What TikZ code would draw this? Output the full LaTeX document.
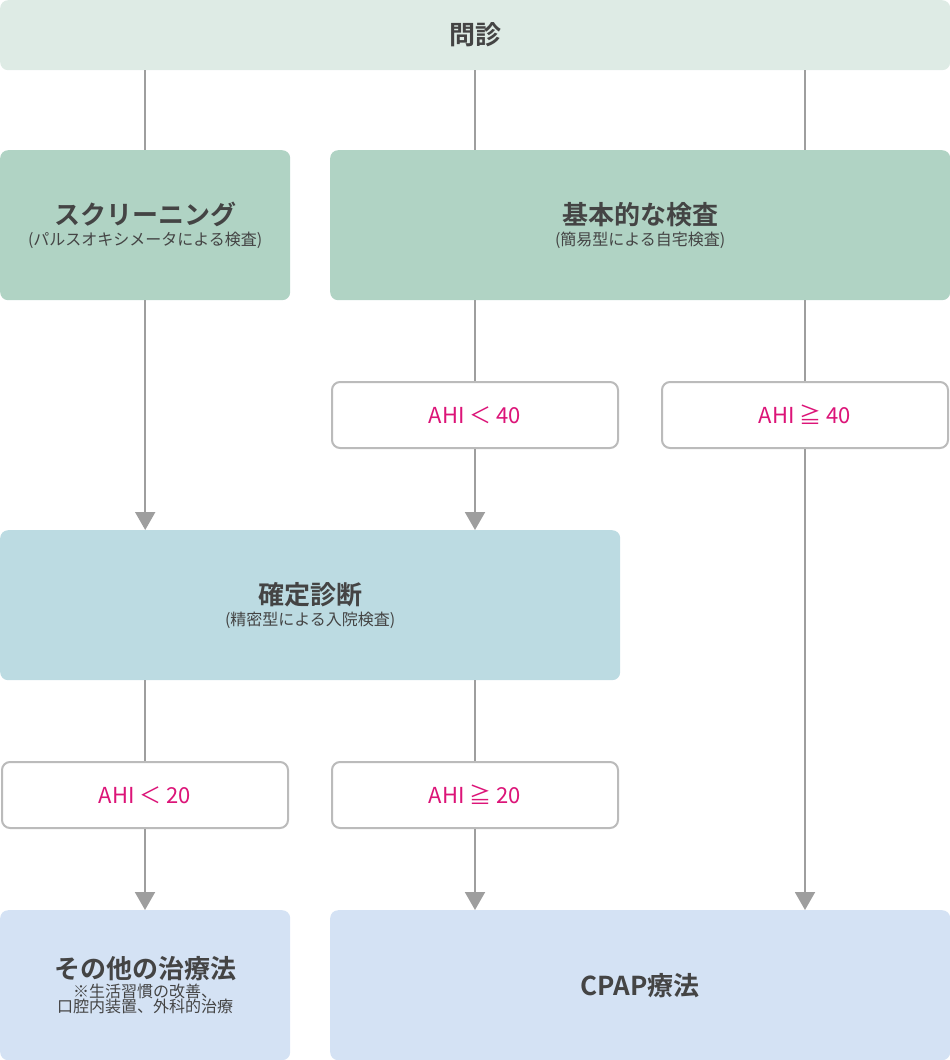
\documentclass[tikz,border=0pt]{standalone}
\usepackage{fontspec}
\setmainfont{Noto Sans CJK JP}[BoldFont={Noto Sans CJK JP Bold}]
\usetikzlibrary{arrows.meta,positioning}
\definecolor{topc}{HTML}{DEEBE5}
\definecolor{greenc}{HTML}{B0D3C4}
\definecolor{cyanc}{HTML}{BCDBE2}
\definecolor{bluec}{HTML}{D4E2F4}
\definecolor{linec}{HTML}{9E9E9E}
\definecolor{pinkc}{HTML}{DC1478}
\definecolor{textc}{HTML}{444444}
\tikzset{>={Triangle[width=20pt,length=18pt]}}
\tikzset{box/.style={anchor=north west,rounded corners=8pt,inner sep=0pt,align=center,text=textc},
  cond/.style={box,draw=linec!70,line width=2pt,fill=white,minimum width=286pt,minimum height=66pt,text=pinkc,font=\fontsize{22}{26}\selectfont},
  conn/.style={draw=linec,line width=2pt}}
\newcommand{\ttl}[1]{{\fontsize{26}{32}\selectfont\bfseries #1}}
\newcommand{\sub}[1]{{\fontsize{16}{22}\selectfont #1}}
\begin{document}
\begin{tikzpicture}[x=1pt,y=-1pt]
  \useasboundingbox (0,0) rectangle (950,1060);
  \node [box,fill=topc,minimum width=950pt,minimum height=70pt] (top) at (0,0) {\ttl{問診}};
  \node [box,fill=greenc,minimum width=290pt,minimum height=150pt] (scr) at (0,150) {\ttl{スクリーニング}\\[4pt]\sub{(パルスオキシメータによる検査)}};
  \node [box,fill=greenc,minimum width=620pt,minimum height=150pt] (basic) at (330,150) {\ttl{基本的な検査}\\[4pt]\sub{(簡易型による自宅検査)}};
  \node [cond] (lt40) at (331,381) {AHI ＜ 40};
  \node [cond] (ge40) at (661,381) {AHI ≧ 40};
  \node [box,fill=cyanc,minimum width=620pt,minimum height=150pt] (diag) at (0,530) {\ttl{確定診断}\\[4pt]\sub{(精密型による入院検査)}};
  \node [cond] (lt20) at (1,761) {AHI ＜ 20};
  \node [cond] (ge20) at (331,761) {AHI ≧ 20};
  \node [box,fill=bluec,minimum width=290pt,minimum height=150pt] (other) at (0,910) {\ttl{その他の治療法}\\[2pt]\sub{※生活習慣の改善、}\\\sub{口腔内装置、外科的治療}};
  \node [box,fill=bluec,minimum width=620pt,minimum height=150pt] (cpap) at (330,910) {\ttl{CPAP療法}};
  % connectors
  \draw [conn] (top.south -| scr) -- (scr.north);
  \draw [conn] (top.south -| lt40) -- (lt40 |- basic.north);
  \draw [conn] (top.south -| ge40) -- (ge40 |- basic.north);
  \draw [conn] (basic.south -| lt40) -- (lt40.north);
  \draw [conn] (basic.south -| ge40) -- (ge40.north);
  \draw [conn,->] (scr.south) -- (scr |- diag.north);
  \draw [conn,->] (lt40.south) -- (lt40 |- diag.north);
  \draw [conn] (diag.south -| lt20) -- (lt20.north);
  \draw [conn] (diag.south -| ge20) -- (ge20.north);
  \draw [conn,->] (lt20.south) -- (lt20 |- other.north);
  \draw [conn,->] (ge20.south) -- (ge20 |- cpap.north);
  \draw [conn,->] (ge40.south) -- (ge40 |- cpap.north);
\end{tikzpicture}
\end{document}
